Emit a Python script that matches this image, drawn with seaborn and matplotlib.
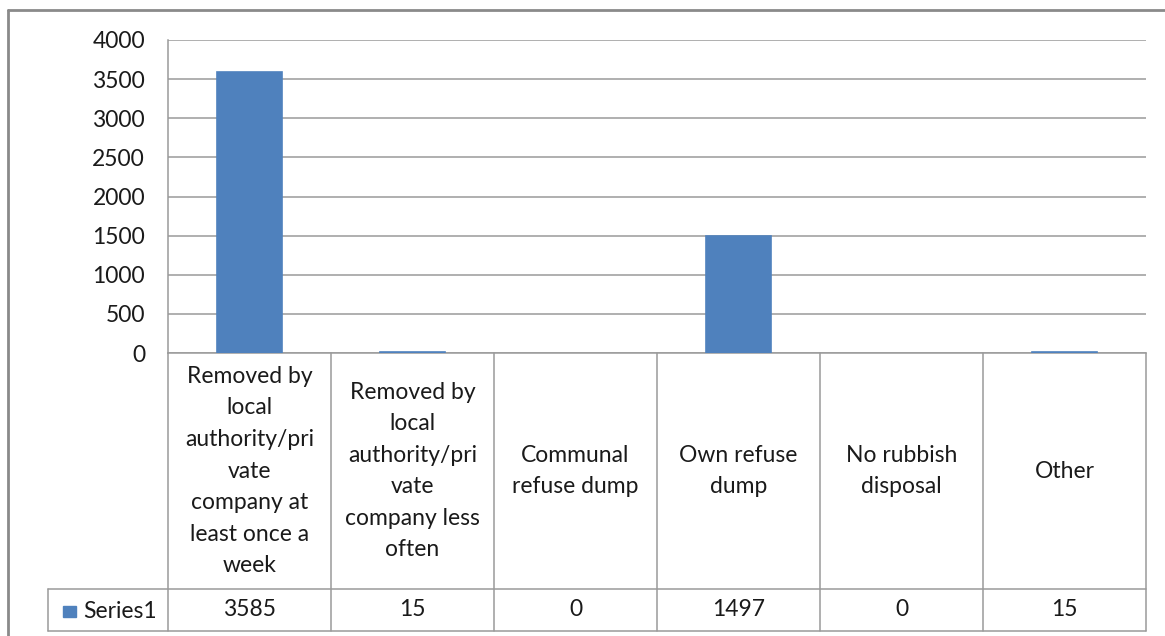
import matplotlib.pyplot as plt
import seaborn as sns
import pandas as pd
from matplotlib.lines import Line2D
from matplotlib.patches import Rectangle

# data
categories = [
    'Removed by\nlocal\nauthority/pri\nvate\ncompany at\nleast once a\nweek',
    'Removed by\nlocal\nauthority/pri\nvate\ncompany less\noften',
    'Communal\nrefuse dump',
    'Own refuse\ndump',
    'No rubbish\ndisposal',
    'Other',
]
values = [3585, 15, 0, 1497, 0, 15]
series_name = 'Series1'
y_ticks = [0, 500, 1000, 1500, 2000, 2500, 3000, 3500, 4000]

BAR = '#4F81BD'
GRID = '#9A9A9A'
TXT = '#1a1a1a'
FS = 16.5

sns.set_style('white')
plt.rcParams['font.family'] = ['Lato', 'DejaVu Sans']

W, H = 1165, 636
fig = plt.figure(figsize=(W / 100, H / 100), dpi=100)
ax = fig.add_axes([168 / W, 1 - 353 / H, (1146 - 168) / W, (353 - 40) / H])

df = pd.DataFrame({'cat': categories, 'value': values})
sns.barplot(data=df, x='cat', y='value', color=BAR, width=0.4, saturation=1,
            edgecolor=BAR, linewidth=1.2, ax=ax)
for p in ax.patches:
    p.set_zorder(3)
    if p.get_height() == 0:
        p.set_linewidth(0)

ax.set_ylim(0, 4000)
ax.set_xlim(-0.5, len(categories) - 0.5)
ax.set_yticks(y_ticks)
ax.set_yticklabels([str(t) for t in y_ticks], fontsize=FS, color=TXT)
ax.tick_params(axis='y', length=0, pad=16.5)
ax.set_xticks([])
ax.set_xlabel('')
ax.set_ylabel('')
ax.grid(axis='y', color=GRID, linewidth=1.1)
ax.set_axisbelow(True)
for side in ['top', 'right']:
    ax.spines[side].set_visible(False)
for side in ['left', 'bottom']:
    ax.spines[side].set_color(GRID)
    ax.spines[side].set_linewidth(1.1)
    ax.spines[side].set_zorder(2)

# data table under the plot
ax_h = 353 - 40
y_mid = (353 - 589) / ax_h
y_bot = (353 - 631) / ax_h
x_lab = (48 - 168) / (1146 - 168)
n = len(categories)

def tline(xs, ys):
    ax.add_line(Line2D(xs, ys, transform=ax.transAxes, color=GRID, lw=1.1, clip_on=False))

for i in range(n + 1):
    tline([i / n, i / n], [0, y_bot])
tline([x_lab, 1], [y_mid, y_mid])
tline([x_lab, 1], [y_bot, y_bot])
tline([x_lab, x_lab], [y_mid, y_bot])

trans = ax.get_xaxis_transform()
for i, (cat, val) in enumerate(zip(categories, values)):
    ax.text(i, y_mid / 2, cat, transform=trans, ha='center', va='center',
            fontsize=FS, linespacing=1.62, color=TXT, clip_on=False)
    ax.text(i, (y_mid + y_bot) / 2, str(val), transform=trans, ha='center', va='center',
            fontsize=FS, color=TXT, clip_on=False)

# legend key + series name
fig.add_artist(Rectangle((63 / W, 1 - 617 / H), 13 / W, 11 / H, color=BAR, transform=fig.transFigure))
fig.text(83 / W, 1 - 611 / H, series_name, ha='left', va='center', fontsize=FS, color=TXT)

# outer chart border
fig.add_artist(Line2D([8 / W, 8 / W], [1 - 10 / H, 0], color='#8a8a8a', lw=2, transform=fig.transFigure))
fig.add_artist(Line2D([8 / W, 1], [1 - 10 / H, 1 - 10 / H], color='#8a8a8a', lw=2, transform=fig.transFigure))

fig.savefig('out.png', dpi=100)
